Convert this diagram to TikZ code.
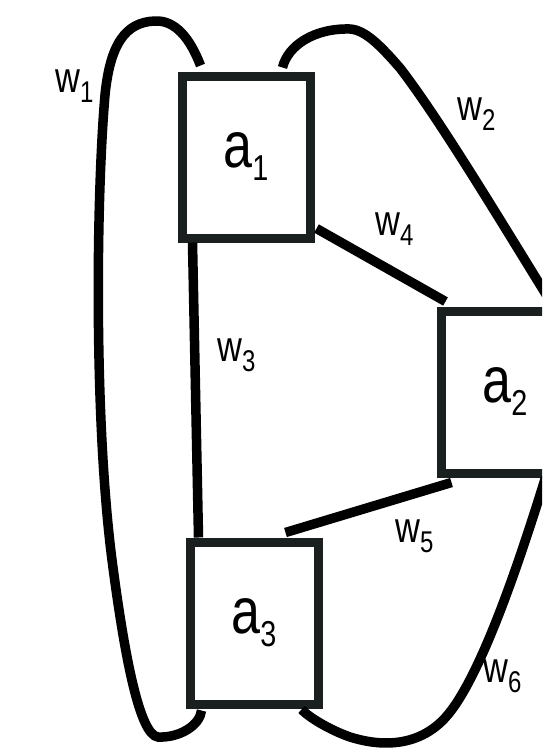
\documentclass[tikz,border=0pt]{standalone}
\usepackage{fontspec}
\newfontfamily\labfont[FakeStretch=0.8]{Liberation Sans}
\usetikzlibrary{calc}
\definecolor{boxcol}{RGB}{26,32,32}
\newcommand{\boxlab}[1]{{\labfont\fontsize{65}{65}\selectfont a\raisebox{-13pt}{\fontsize{36}{36}\selectfont #1}}}
\newcommand{\wlab}[1]{{\labfont\fontsize{43}{43}\selectfont w\raisebox{-10pt}{\fontsize{30}{30}\selectfont #1}}}
\begin{document}
\begin{tikzpicture}[x=1pt,y=-1pt,
  agent/.style={draw=boxcol,line width=9pt,fill=white,minimum width=128pt,minimum height=162pt,inner sep=0pt},
  wire/.style={line width=9.5pt,black},
  wl/.style={anchor=base west,inner sep=0pt}]
\useasboundingbox (0,0) rectangle (542,748);
\clip (0,0) rectangle (542,748);
\node[agent] (a1) at (246,157) {\boxlab{1}};
\node[agent] (a2) at (505,392) {\boxlab{2}};
\node[agent] (a3) at (254,623) {\boxlab{3}};
% connector end points
\coordinate (w1s) at ($(a1.north west)+(23,-6)$);
\coordinate (w1e) at ($(a3.south west)+(16,2)$);
\coordinate (w2s) at ($(a1.north east)+(-32,-4)$);
\coordinate (w2e) at ($(a2.north east)+(-20,0)$);
\coordinate (w3s) at ($(a1.south west)+(15,0)$);
\coordinate (w3e) at ($(a3.north west)+(13,0)$);
\coordinate (w4s) at ($(a1.south east)+(2,-14)$);
\coordinate (w4e) at ($(a2.north west)+(9,-5)$);
\coordinate (w5s) at ($(a3.north west)+(100,-5)$);
\coordinate (w5e) at ($(a2.south west)+(15,5)$);
\coordinate (w6s) at ($(a2.south east)+(-28,0)$);
\coordinate (w6e) at ($(a3.south east)+(-21,1)$);
% wires
\draw[wire] (w1s) .. controls (190,38) and (175,20) .. (155,21)
  .. controls (125,22) and (110,45) .. (105,95)
  .. controls (96,200) and (94,420) .. (112,560)
  .. controls (125,660) and (140,735) .. (158,737)
  .. controls (180,738) and (200,725) .. (w1e);
\draw[wire] (w2s) .. controls (288,45) and (315,28) .. (350,29)
  .. controls (365,30) and (380,45) .. (400,68)
  .. controls (440,120) and (500,220) .. (w2e);
\draw[wire] (w3s) -- (w3e);
\draw[wire] (w4s) -- (w4e);
\draw[wire] (w5s) -- (w5e);
\draw[wire] (w6s) .. controls (520,560) and (480,680) .. (445,718)
  .. controls (420,745) and (385,748) .. (350,737)
  .. controls (330,730) and (310,718) .. (w6e);
% labels
\node[wl] (l1) at (55,92) {\wlab{1}};
\node[wl] (l2) at (457,120) {\wlab{2}};
\node[wl] (l3) at (217,361) {\wlab{3}};
\node[wl] (l4) at (375,235) {\wlab{4}};
\node[wl] (l5) at (395,542) {\wlab{5}};
\node[wl] (l6) at (483,682) {\wlab{6}};
\end{tikzpicture}
\end{document}
